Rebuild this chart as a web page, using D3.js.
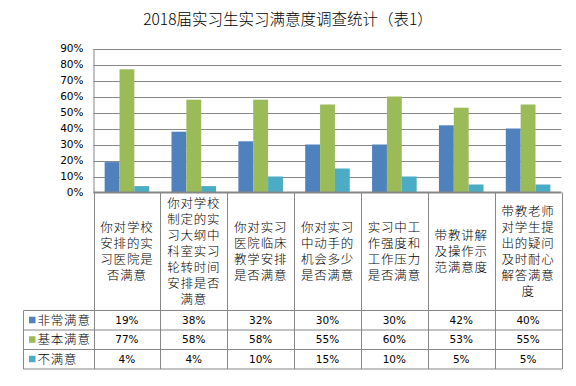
<!DOCTYPE html>
<html><head><meta charset="utf-8">
<script src="https://cdn.jsdelivr.net/npm/d3@7"></script>
<style>
html,body{margin:0;padding:0;background:#fff;}
svg{display:block;}
</style>
</head><body>
<svg id="chart" width="576" height="386"></svg>
<script>
const title = "2018届实习生实习满意度调查统计（表1）";
const categories = [
  "你对学校安排的实习医院是否满意",
  "你对学校制定的实习大纲中科室实习轮转时间安排是否满意",
  "你对实习医院临床教学安排是否满意",
  "你对实习中动手的机会多少是否满意",
  "实习中工作强度和工作压力是否满意",
  "带教讲解及操作示范满意度",
  "带教老师对学生提出的疑问及时耐心解答满意度"
];
const seriesNames = ["非常满意", "基本满意", "不满意"];
const veryValues = [0.19, 0.38, 0.32, 0.30, 0.30, 0.42, 0.40];
const basicValues = [0.77, 0.58, 0.58, 0.55, 0.60, 0.53, 0.55];
const notValues = [0.04, 0.04, 0.10, 0.15, 0.10, 0.05, 0.05];
const yTicks = [0, 0.1, 0.2, 0.3, 0.4, 0.5, 0.6, 0.7, 0.8, 0.9];
const colors = ["#4F81BD", "#9BBB59", "#4BACC6"];

(function () {
const seriesValues = [veryValues, basicValues, notValues];
const svg = d3.select("#chart");
const pLeft = 93.5, pRight = 561.5, pTop = 48.5, pBottom = 192.5;
const tableLeft = 23.5, catRowBottom = 310.5, rowH = 19.5;
const gridColor = "#878787";
const cjk = "'Noto Sans CJK SC', sans-serif";
const latin = "'DejaVu Sans', Verdana, sans-serif";

svg.append("text").attr("x", 288).attr("y", 25).attr("text-anchor", "middle")
  .attr("font-family", cjk).attr("font-size", 15.5).attr("font-weight", 300).attr("fill", "#000").text(title);

const x0 = d3.scaleBand().domain(d3.range(categories.length)).range([pLeft, pRight]);
const catW = x0.bandwidth();
const bw = catW / 4.5;
const x1 = d3.scaleBand().domain(d3.range(seriesNames.length)).range([0.75 * bw, 3.75 * bw]);
const y = d3.scaleLinear().domain([0, 0.9]).range([pBottom, pTop]);

// gridlines
svg.append("g").selectAll("line").data(yTicks.filter(d => d > 0)).join("line")
  .attr("x1", pLeft).attr("x2", pRight)
  .attr("y1", d => Math.round(y(d)) + 0.5).attr("y2", d => Math.round(y(d)) + 0.5)
  .attr("stroke", gridColor).attr("stroke-width", 1);

// y axis
const yAxis = d3.axisLeft(y).tickValues(yTicks).tickFormat(d3.format(".0%")).tickSize(0).tickPadding(10);
const ya = svg.append("g").attr("transform", `translate(${pLeft},0)`).call(yAxis);
ya.select(".domain").attr("stroke", gridColor);
ya.selectAll("text").attr("font-family", latin).attr("font-size", 10.5).attr("fill", "#000");

// bars
const groups = svg.append("g").selectAll("g").data(categories).join("g")
  .attr("transform", (d, i) => `translate(${x0(i)},0)`);
groups.selectAll("rect").data((d, i) => seriesValues.map((s, k) => ({k, v: s[i]}))).join("rect")
  .attr("x", d => x1(d.k)).attr("width", x1.bandwidth())
  .attr("y", d => y(d.v)).attr("height", d => pBottom - y(d.v))
  .attr("fill", d => colors[d.k]);

// x axis line
svg.append("line").attr("x1", pLeft).attr("x2", pRight).attr("y1", pBottom).attr("y2", pBottom)
  .attr("stroke", gridColor).attr("stroke-width", 2);

// table
const tableBottom = catRowBottom + rowH * 3;
const tg = svg.append("g").attr("stroke", gridColor).attr("stroke-width", 1).attr("fill", "none");
const bounds = categories.map((d, i) => x0(i)).concat([pRight]);
tg.selectAll("line.v").data(bounds).join("line").attr("class", "v")
  .attr("x1", d => Math.round(d) + 0.5).attr("x2", d => Math.round(d) + 0.5)
  .attr("y1", pBottom).attr("y2", tableBottom);
tg.append("line").attr("x1", tableLeft).attr("x2", tableLeft).attr("y1", catRowBottom).attr("y2", tableBottom);
for (let r = 0; r <= 3; r++) {
  tg.append("line").attr("x1", tableLeft).attr("x2", pRight + 0.5)
    .attr("y1", catRowBottom + r * rowH).attr("y2", catRowBottom + r * rowH);
}

// category labels (wrapped 4 chars per line)
const lineH = 16;
const cg = svg.append("g").attr("font-family", cjk).attr("font-size", 12.5).attr("font-weight", 300)
  .attr("fill", "#000").attr("text-anchor", "middle").attr("letter-spacing", 0.8);
categories.forEach((c, i) => {
  const lines = c.match(/.{1,4}/g);
  const cy = (pBottom + catRowBottom) / 2;
  const startY = cy - (lines.length - 1) * lineH / 2;
  lines.forEach((l, j) => {
    cg.append("text").attr("x", x0(i) + catW / 2).attr("y", startY + j * lineH)
      .attr("dy", "0.35em").text(l);
  });
});

// row labels & values
seriesNames.forEach((s, k) => {
  const cy = catRowBottom + k * rowH + rowH / 2;
  svg.append("rect").attr("x", 29).attr("y", cy - 3.5).attr("width", 6.5).attr("height", 6.5).attr("fill", colors[k]);
  svg.append("text").attr("x", 37.5).attr("y", cy).attr("dy", "0.35em")
    .attr("font-family", cjk).attr("font-size", 12.5).attr("font-weight", 300).attr("letter-spacing", 0.8)
    .attr("fill", "#000").text(s);
  svg.append("g").selectAll("text").data(seriesValues[k]).join("text")
    .attr("x", (d, i) => x0(i) + catW / 2).attr("y", cy).attr("dy", "0.35em")
    .attr("text-anchor", "middle").attr("font-family", latin).attr("font-size", 10.5).attr("fill", "#000")
    .text(d => d3.format(".0%")(d));
});
})();
</script>
</body></html>
